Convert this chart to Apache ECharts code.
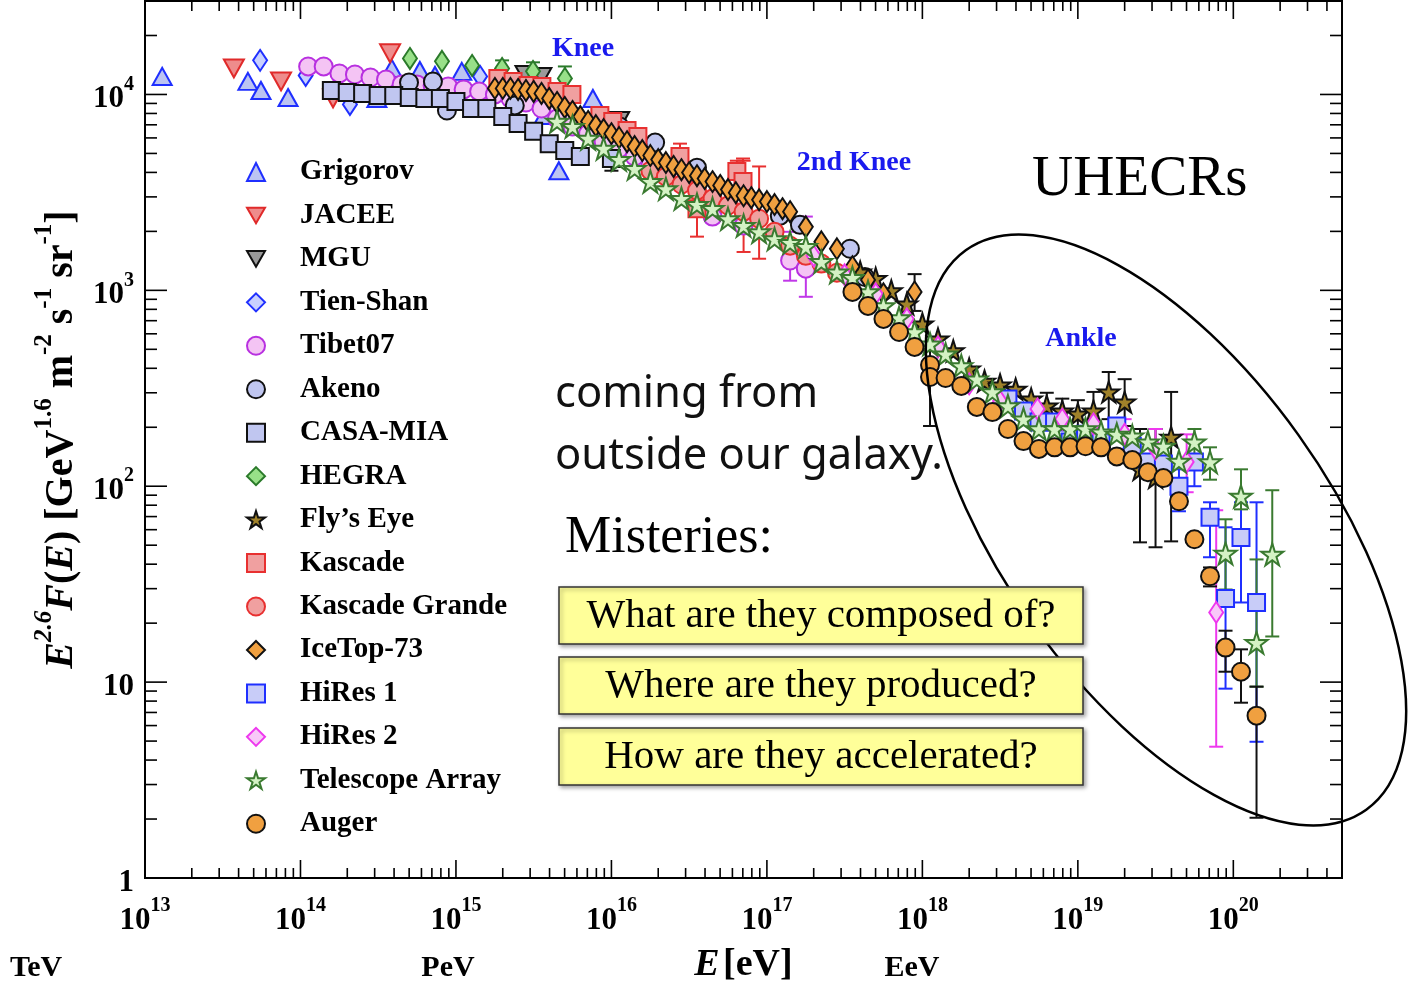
<!DOCTYPE html>
<html>
<head>
<meta charset="utf-8">
<script src="https://cdn.jsdelivr.net/npm/echarts@6.0.0/dist/echarts.min.js"></script>
<style>
  html, body { margin: 0; padding: 0; background: #fff; }
  #chart { width: 1410px; height: 983px; }
</style>
</head>
<body>
<div id="chart"></div>
<script>
// Axis bounds (energy in eV, flux scaled by E^2.6)
const X_MIN = 1e13, X_MAX = 5e20;
const Y_MIN = 1, Y_MAX = 3e4;

// ---- measurements: energy E [eV] and E^2.6 F(E) ----
const grigorovE = [1.29e13, 4.59e13, 5.57e13, 8.32e13, 3.10e14, 3.87e14, 5.86e14, 7.33e14, 1.09e15, 3.68e15, 4.59e15, 7.60e15];
const grigorovF = [12360, 11660, 10480, 9650, 9540, 13580, 13260, 12500, 13120, 7810, 4080, 9540];

const jaceeE = [3.73e13, 7.50e13, 1.62e14, 3.77e14];
const jaceeF = [13580, 11650, 9540, 16220];

const mguE = [2.78e15, 3.57e15, 1.13e16];
const mguF = [12650, 12360, 7360];

const tienShanE = [5.50e13, 1.08e14, 2.08e14, 1.43e15];
const tienShanF = [14930, 12510, 8890, 12360];

const tibetE = [1.12e14, 1.41e14, 1.78e14, 2.24e14, 2.82e14, 3.55e14, 4.47e14, 5.62e14, 7.08e14, 8.91e14,
  1.12e15, 1.41e15, 1.78e15, 2.24e15, 2.82e15, 3.55e15, 4.47e15, 5.62e15, 7.08e15, 8.91e15,
  1.12e16, 1.41e16, 1.78e16, 2.24e16, 2.82e16, 4.47e16, 7.08e16, 1.41e17, 1.78e17];
const tibetF = [13900, 13900, 12800, 12650, 12210, 11930, 11250, 11250, 11120, 10990,
  10610, 10360, 10000, 9540, 9100, 8480, 7530, 6860, 6310, 5740,
  5300, 4820, 4390, 3940, 3630, 2380, 2140, 1420, 1290];
const tibetErr = [[1.41e17, 1120, 1990], [1.78e17, 927, 2380]];

const akenoE = [4.99e14, 7.11e14, 8.75e14, 2.39e15, 1.13e16, 1.91e16, 3.55e16, 1.21e17, 1.63e17, 3.42e17, 4.27e17];
const akenoF = [11510, 11650, 8280, 8790, 6860, 5680, 4230, 2400, 2160, 1630, 1170];

const casaE = [1.58e14, 2.00e14, 2.51e14, 3.16e14, 3.98e14, 5.01e14, 6.31e14, 7.94e14, 1.00e15,
  1.26e15, 1.58e15, 2.00e15, 2.51e15, 3.16e15, 3.98e15, 5.01e15, 6.31e15, 1.00e16];
const casaF = [10480, 10240, 10120, 9890, 9890, 9660, 9540, 9540, 9210,
  8480, 8480, 7710, 7110, 6480, 5610, 5170, 4820, 4710];
const casaErr = [[1.00e16, 4080, 5610]];

const hegraE = [5.06e14, 8.13e14, 1.27e15, 1.98e15, 3.13e15, 5.02e15];
const hegraF = [15280, 14760, 14060, 13580, 13120, 12080];
const hegraErr = [[1.98e15, 12360, 14930], [3.13e15, 11800, 14590], [5.02e15, 10480, 13900]];

const flysEyeE = [3.98e17, 5.01e17, 6.31e17, 7.94e17, 1.00e18, 1.26e18, 1.58e18, 2.00e18, 2.51e18, 3.16e18,
  3.98e18, 5.01e18, 6.31e18, 7.94e18, 1.00e19, 1.26e19, 1.58e19, 2.00e19, 2.51e19, 3.16e19, 3.98e19];
const flysEyeF = [1240, 1150, 994, 853, 674, 565, 491, 397, 344, 329,
  313, 279, 257, 242, 234, 242, 303, 269, 122, 111, 178];
const flysEyeErr = [[6.31e18, 220, 300], [7.94e18, 210, 280], [1.00e19, 200, 275], [1.26e19, 200, 303],
  [1.58e19, 220, 383], [2.00e19, 203, 352], [2.51e19, 51.7, 196], [3.16e19, 48.8, 196], [3.98e19, 52.3, 303]];

const kascadeE = [1.86e15, 2.33e15, 2.91e15, 3.57e15, 4.47e15, 5.57e15, 8.43e15, 1.02e16, 1.26e16, 1.48e16,
  2.76e16, 3.55e16, 6.41e16, 7.02e16];
const kascadeF = [12080, 11650, 11120, 10990, 10360, 10000, 7810, 7280, 6550, 6100,
  4820, 2610, 4040, 3590];
const kascadeErr = [[2.76e16, 4130, 5610], [3.55e16, 1880, 3590], [6.41e16, 3300, 4590], [7.02e16, 2770, 4710]];

const kgE = [1.78e16, 2.24e16, 2.82e16, 3.55e16, 4.47e16, 5.62e16, 7.08e16, 8.91e16, 1.12e17, 1.41e17, 1.78e17, 2.24e17, 2.82e17];
const kgF = [4080, 3810, 3470, 3230, 2940, 2710, 2520, 2320, 1990, 1690, 1500, 1370, 1230];
const kgErr = [[7.08e16, 1570, 4590], [8.91e16, 1450, 4290]];

const iceTopE = [1.78e15, 2.00e15, 2.24e15, 2.51e15, 2.82e15, 3.16e15, 3.55e15, 3.98e15, 4.47e15, 5.01e15,
  5.62e15, 6.31e15, 7.08e15, 7.94e15, 8.91e15, 1.00e16, 1.12e16, 1.26e16, 1.41e16, 1.58e16,
  1.78e16, 2.00e16, 2.24e16, 2.51e16, 2.82e16, 3.16e16, 3.55e16, 3.98e16, 4.47e16, 5.01e16,
  5.62e16, 6.31e16, 7.08e16, 7.94e16, 8.91e16, 1.00e17, 1.12e17, 1.26e17, 1.41e17,
  1.78e17, 2.24e17, 2.82e17, 3.55e17, 4.47e17, 5.62e17, 8.91e17];
const iceTopF = [10740, 10740, 10740, 10610, 10480, 10360, 10120, 9540, 9100, 8590,
  8190, 7710, 7280, 6940, 6620, 6310, 6030, 5740, 5420, 5170,
  4880, 4650, 4490, 4290, 4130, 3990, 3850, 3720, 3590, 3430,
  3270, 3150, 3040, 2970, 2900, 2840, 2740, 2610, 2520,
  2110, 1770, 1630, 1320, 1130, 960, 982];
const iceTopErr = [[8.91e17, 785, 1210]];

const hires1E = [3.55e18, 4.47e18, 5.62e18, 7.08e18, 8.91e18, 1.12e19, 1.41e19, 1.78e19, 2.24e19,
  2.82e19, 3.55e19, 4.47e19, 5.62e19, 7.08e19, 8.91e19, 1.12e20, 1.41e20];
const hires1F = [279, 242, 213, 213, 168, 184, 174, 203, 160, 133, 130, 100, 133, 69.4, 26.7, 54.8, 25.5];
const hires1Err = [[4.47e19, 74.5, 122], [5.62e19, 100, 144], [7.08e19, 43.4, 82.8], [8.91e19, 9.26, 61.7],
  [1.12e20, 25.5, 82.8], [1.41e20, 4.96, 82.8]];

const hires2E = [2.00e17, 3.16e17, 5.01e17, 7.94e17, 1.26e18, 2.00e18, 3.16e18, 5.50e18, 7.94e18,
  1.26e19, 2.00e19, 3.16e19, 5.01e19, 7.76e19];
const hires2F = [1500, 1200, 960, 715, 514, 333, 272, 248, 220, 208, 184, 155, 133, 22.7];
const hires2Err = [[2.00e19, 155, 220], [3.16e19, 122, 196], [5.01e19, 93.2, 184], [7.76e19, 4.68, 75.4]];

const taE = [4.47e15, 5.62e15, 7.08e15, 8.91e15, 1.12e16, 1.41e16, 1.78e16, 2.24e16, 2.82e16, 3.55e16,
  4.47e16, 5.62e16, 7.08e16, 8.91e16, 1.12e17, 1.41e17, 1.78e17, 2.24e17, 2.82e17, 3.55e17,
  4.47e17, 5.62e17, 7.08e17, 8.91e17, 1.12e18, 1.41e18, 1.78e18, 2.24e18, 2.82e18, 3.55e18,
  4.47e18, 5.62e18, 7.08e18, 8.91e18, 1.12e19, 1.41e19, 1.78e19, 2.24e19, 2.82e19, 3.55e19,
  4.47e19, 5.62e19, 7.08e19, 8.91e19, 1.12e20, 1.41e20, 1.78e20];
const taF = [7280, 6860, 5960, 5300, 4650, 4180, 3590, 3300, 2940, 2740,
  2610, 2320, 2140, 1990, 1830, 1750, 1670, 1400, 1240, 1160,
  982, 833, 723, 613, 532, 473, 411, 352, 303, 257,
  220, 196, 196, 196, 196, 189, 184, 180, 168, 160,
  134, 168, 133, 45.4, 88.9, 15.9, 44.9];
const taErr = [[5.62e19, 142, 196], [7.08e19, 108, 158], [8.91e19, 29.7, 67.8], [1.12e20, 76.2, 122],
  [1.41e20, 9.48, 42.3], [1.78e20, 17.1, 95.4]];

const augerE = [3.55e17, 4.47e17, 5.62e17, 7.08e17, 8.91e17, 1.12e18, 1.12e18, 1.41e18, 1.78e18, 2.24e18,
  2.82e18, 3.55e18, 4.47e18, 5.62e18, 7.08e18, 8.91e18, 1.12e19, 1.41e19, 1.78e19, 2.24e19,
  2.82e19, 3.55e19, 4.47e19, 5.62e19, 7.08e19, 8.91e19, 1.12e20, 1.41e20];
const augerF = [982, 833, 715, 613, 514, 416, 361, 357, 325, 254,
  239, 196, 170, 155, 158, 158, 160, 158, 142, 136,
  118, 110, 83.8, 53.6, 34.7, 15.0, 11.3, 6.74];
const augerErr = [[1.12e18, 203, 500], [7.08e19, 30.8, 38.5], [8.91e19, 11.3, 18.3], [1.12e20, 7.85, 14.7], [1.41e20, 2.03, 9.48]];

// ---- marker shapes ----
const STAR = 'path://M50,0L61.2,34.5L97.6,34.5L68.2,55.9L79.4,90.5L50,69.1L20.6,90.5L31.8,55.9L2.4,34.5L38.8,34.5Z';
const TRI_DOWN = 'path://M0,0L20,0L10,17.3Z';
const SERIF = '"Liberation Serif", "DejaVu Serif", serif';
const SANS = '"Noto Sans", "Open Sans", sans-serif';

const experiments = [
  { name: 'Grigorov', e: grigorovE, f: grigorovF, symbol: 'triangle', size: [19, 17], fill: '#bcc4f2', stroke: '#1f2fff' },
  { name: 'JACEE', e: jaceeE, f: jaceeF, symbol: TRI_DOWN, size: [20, 18], fill: '#ee8c8c', stroke: '#e02a2a' },
  { name: 'MGU', e: mguE, f: mguF, symbol: TRI_DOWN, size: [19, 17], fill: '#9a9a9a', stroke: '#111' },
  { name: 'Tien-Shan', e: tienShanE, f: tienShanF, symbol: 'diamond', size: [14, 21], fill: '#c8d0ff', stroke: '#1f2fff' },
  { name: 'Tibet07', e: tibetE, f: tibetF, err: tibetErr, errColor: '#c038e8', symbol: 'circle', size: 18, fill: '#f4c4f4', stroke: '#b830e0' },
  { name: 'Akeno', e: akenoE, f: akenoF, symbol: 'circle', size: 18, fill: '#c0c6f0', stroke: '#111' },
  { name: 'CASA-MIA', e: casaE, f: casaF, err: casaErr, errColor: '#111', symbol: 'rect', size: 17, fill: '#c0c6f0', stroke: '#111' },
  { name: 'HEGRA', e: hegraE, f: hegraF, err: hegraErr, errColor: '#2a7a2a', symbol: 'diamond', size: [14, 21], fill: '#98e088', stroke: '#2a7a2a' },
  { name: 'Fly\u2019s Eye', e: flysEyeE, f: flysEyeF, err: flysEyeErr, errColor: '#111', symbol: STAR, size: 21, fill: '#a0822a', stroke: '#111' },
  { name: 'Kascade', e: kascadeE, f: kascadeF, err: kascadeErr, errColor: '#e83030', symbol: 'rect', size: 17, fill: '#f0a0a0', stroke: '#e83030' },
  { name: 'Kascade Grande', e: kgE, f: kgF, err: kgErr, errColor: '#e83030', symbol: 'circle', size: 18, fill: '#f0a0a0', stroke: '#e83030' },
  { name: 'IceTop-73', e: iceTopE, f: iceTopF, err: iceTopErr, errColor: '#111', symbol: 'diamond', size: [14, 21], fill: '#f0a040', stroke: '#111' },
  { name: 'HiRes 1', e: hires1E, f: hires1F, err: hires1Err, errColor: '#1f2fff', symbol: 'rect', size: 17, fill: '#c8ccf8', stroke: '#1f2fff' },
  { name: 'HiRes 2', e: hires2E, f: hires2F, err: hires2Err, errColor: '#ee38ee', symbol: 'diamond', size: [14, 21], fill: '#f8c8f8', stroke: '#ee38ee' },
  { name: 'Telescope Array', e: taE, f: taF, err: taErr, errColor: '#3a7a30', symbol: STAR, size: 22, fill: '#d4f2c4', stroke: '#3a7a30' },
  { name: 'Auger', e: augerE, f: augerF, err: augerErr, errColor: '#111', symbol: 'circle', size: 18, fill: '#f0a040', stroke: '#111' }
];

// vertical error bar with caps
function errorBar(color) {
  return function (params, api) {
    const x = api.value(0);
    const a = api.coord([x, api.value(1)]);
    const b = api.coord([x, api.value(2)]);
    const c = 7;
    const st = { stroke: color, lineWidth: 2 };
    return {
      type: 'group',
      children: [
        { type: 'line', shape: { x1: a[0], y1: a[1], x2: b[0], y2: b[1] }, style: st },
        { type: 'line', shape: { x1: a[0] - c, y1: a[1], x2: a[0] + c, y2: a[1] }, style: st },
        { type: 'line', shape: { x1: b[0] - c, y1: b[1], x2: b[0] + c, y2: b[1] }, style: st }
      ]
    };
  };
}

// decade and sub-decade tick positions on both log axes
const xTicks = [];
for (let p = 13; p <= 20; p++) {
  for (let m = 1; m <= 9; m++) {
    const v = m * Math.pow(10, p);
    if (v <= X_MAX) xTicks.push([v, Y_MIN, m === 1 ? 1 : 0]);
  }
}
const yTicks = [];
for (let p = 0; p <= 4; p++) {
  for (let m = 1; m <= 9; m++) {
    const v = m * Math.pow(10, p);
    if (v <= Y_MAX) yTicks.push([X_MIN, v, m === 1 ? 1 : 0]);
  }
}

const series = [];
series.push({
  type: 'custom', silent: true, z: 5, data: xTicks, encode: { x: 0, y: 1 },
  renderItem: function (params, api) {
    const v = api.value(0);
    const bot = api.coord([v, Y_MIN]);
    const top = api.coord([v, Y_MAX]);
    const L = api.value(2) ? 18 : 10;
    const st = { stroke: '#000', lineWidth: 1.6 };
    return { type: 'group', children: [
      { type: 'line', shape: { x1: bot[0], y1: bot[1], x2: bot[0], y2: bot[1] - L }, style: st },
      { type: 'line', shape: { x1: top[0], y1: top[1], x2: top[0], y2: top[1] + L }, style: st }
    ] };
  }
});
series.push({
  type: 'custom', silent: true, z: 5, data: yTicks, encode: { x: 0, y: 1 },
  renderItem: function (params, api) {
    const v = api.value(1);
    const left = api.coord([X_MIN, v]);
    const right = api.coord([X_MAX, v]);
    const L = api.value(2) ? 22 : 12;
    const st = { stroke: '#000', lineWidth: 1.6 };
    return { type: 'group', children: [
      { type: 'line', shape: { x1: left[0], y1: left[1], x2: left[0] + L, y2: left[1] }, style: st },
      { type: 'line', shape: { x1: right[0], y1: right[1], x2: right[0] - L, y2: right[1] }, style: st }
    ] };
  }
});

experiments.forEach(function (ex) {
  if (ex.err) {
    series.push({
      type: 'custom', name: ex.name + ' errors', silent: true, z: 3,
      data: ex.err, encode: { x: 0, y: [1, 2] },
      renderItem: errorBar(ex.errColor)
    });
  }
  series.push({
    type: 'scatter', name: ex.name, z: 3,
    data: ex.e.map(function (v, k) { return [v, ex.f[k]]; }),
    symbol: ex.symbol, symbolSize: ex.size,
    itemStyle: { color: ex.fill, borderColor: ex.stroke, borderWidth: 2, opacity: 1 },
    emphasis: { disabled: true }
  });
});

const supLabel = {
  b: { fontFamily: SERIF, fontWeight: 'bold', fontSize: 31, lineHeight: 40, verticalAlign: 'bottom', color: '#000' },
  s: { fontFamily: SERIF, fontWeight: 'bold', fontSize: 20, lineHeight: 22, verticalAlign: 'top', color: '#000' }
};
function powerLabel(value) {
  const p = Math.round(Math.log10(value));
  if (p === 0) return '{b|1}';
  if (p === 1) return '{b|10}';
  return '{b|10}{s|' + p + '}';
}

const titleRich = {
  i: { fontFamily: SERIF, fontWeight: 'bold', fontStyle: 'italic', fontSize: 40, lineHeight: 50, verticalAlign: 'bottom', color: '#000' },
  b: { fontFamily: SERIF, fontWeight: 'bold', fontSize: 40, lineHeight: 50, verticalAlign: 'bottom', color: '#000' },
  s: { fontFamily: SERIF, fontWeight: 'bold', fontSize: 25, lineHeight: 28, verticalAlign: 'top', color: '#000' },
  si: { fontFamily: SERIF, fontWeight: 'bold', fontStyle: 'italic', fontSize: 25, lineHeight: 28, verticalAlign: 'top', color: '#000' }
};

function txt(text, x, y, size, opts) {
  opts = opts || {};
  return {
    type: 'text', x: x, y: y, z: 110,
    style: {
      text: text, fontSize: size, fontFamily: opts.family || SERIF, fontWeight: opts.weight || 'normal',
      fill: opts.color || '#000', align: opts.align || 'left', verticalAlign: 'middle'
    }
  };
}
function box(y, label) {
  return [
    { type: 'rect', z: 105, shape: { x: 559, y: y, width: 524, height: 57 },
      style: { fill: '#ffff99', stroke: '#333', lineWidth: 1.5, shadowBlur: 4, shadowColor: 'rgba(0,0,0,0.35)', shadowOffsetX: 2, shadowOffsetY: 2 } },
    txt(label, 821, y + 29, 41, { align: 'center' })
  ];
}

const chart = echarts.init(document.getElementById('chart'), null, { renderer: 'canvas' });
chart.setOption({
  animation: false,
  backgroundColor: '#fff',
  grid: {
    left: 145, top: 1, width: 1197, height: 877, containLabel: false, outerBoundsMode: 'none',
    show: true, borderColor: '#000', borderWidth: 2, backgroundColor: 'transparent'
  },
  xAxis: {
    type: 'log', logBase: 10, min: X_MIN, max: X_MAX,
    axisLine: { show: false }, axisTick: { show: false }, splitLine: { show: false },
    axisLabel: { margin: 18, showMaxLabel: false, showMinLabel: true, formatter: powerLabel, rich: supLabel },
    name: '{i|E} {b|[eV]}', nameLocation: 'middle', nameGap: 68,
    nameTextStyle: { rich: {
      i: { fontFamily: SERIF, fontWeight: 'bold', fontStyle: 'italic', fontSize: 38, color: '#000' },
      b: { fontFamily: SERIF, fontWeight: 'bold', fontSize: 38, color: '#000' }
    } }
  },
  yAxis: {
    type: 'log', logBase: 10, min: Y_MIN, max: Y_MAX,
    axisLine: { show: false }, axisTick: { show: false }, splitLine: { show: false },
    axisLabel: { margin: 11, showMaxLabel: false, showMinLabel: true, formatter: powerLabel, rich: supLabel },
    name: '{i|E}{si|2.6}{i|F}{b|(}{i|E}{b|) [GeV}{s|1.6}{b| m}{s|-2}{b| s}{s|-1}{b| sr}{s|-1}{b|]}',
    nameLocation: 'middle', nameRotate: 90, nameGap: 60,
    nameTextStyle: { rich: titleRich }
  },
  legend: {
    orient: 'vertical', left: 246, top: 157, padding: 0,
    itemWidth: 18, itemHeight: 18, itemGap: 13.45, selectedMode: false,
    data: experiments.map(function (e) { return e.name; }),
    textStyle: { fontFamily: SERIF, fontWeight: 'bold', fontSize: 29, color: '#000', lineHeight: 30, padding: [0, 0, 0, 30] }
  },
  graphic: [
    { type: 'ellipse', z: 100, x: 1166, y: 530, rotation: -54.4 * Math.PI / 180,
      shape: { cx: 0, cy: 0, rx: 344, ry: 163 }, style: { fill: 'none', stroke: '#000', lineWidth: 2.5 } },
    txt('Knee', 583, 49, 28, { weight: 'bold', color: '#1a1aee', align: 'center' }),
    txt('2nd Knee', 854, 163, 28, { weight: 'bold', color: '#1a1aee', align: 'center' }),
    txt('Ankle', 1081, 339, 28, { weight: 'bold', color: '#1a1aee', align: 'center' }),
    txt('UHECRs', 1032, 180, 57),
    txt('coming from', 555, 395, 43.5, { family: SANS, color: '#111' }),
    txt('outside our galaxy.', 555, 457, 43.5, { family: SANS, color: '#111' }),
    txt('Misteries:', 565, 538, 52),
    txt('TeV', 36, 968, 30, { weight: 'bold', align: 'center' }),
    txt('PeV', 448, 968, 30, { weight: 'bold', align: 'center' }),
    txt('EeV', 912, 968, 30, { weight: 'bold', align: 'center' })
  ].concat(box(587, 'What are they composed of?'), box(657, 'Where are they produced?'), box(728, 'How are they accelerated?')),
  series: series
});
</script>
</body>
</html>
